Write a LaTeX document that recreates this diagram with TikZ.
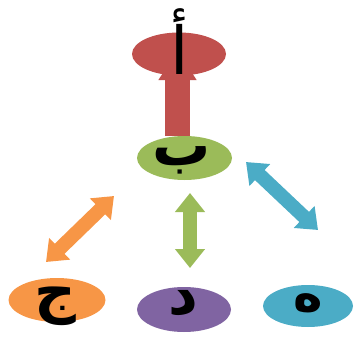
\documentclass[tikz,border=0pt]{standalone}
\usepackage{fontspec}
\newfontfamily\arabicfont[Script=Arabic]{DejaVu Sans}
\TeXXeTstate=1
\usetikzlibrary{shapes.geometric,arrows.meta}
\definecolor{cred}{HTML}{C0504D}
\definecolor{cgreen}{HTML}{9BBB59}
\definecolor{corange}{HTML}{F79646}
\definecolor{cpurple}{HTML}{8064A2}
\definecolor{cblue}{HTML}{4BACC6}
\begin{document}
\begin{tikzpicture}[x=1pt,y=-1pt,
  blob/.style={ellipse,draw=none,inner sep=0pt},
  lbl/.style={font=\arabicfont\bfseries\fontsize{58}{60}\selectfont,text=black,inner sep=0pt},
  dbl/.style={line width=14pt,{Triangle[width=29pt,length=19pt]}-{Triangle[width=29pt,length=19pt]}},
  single/.style={line width=25pt,-{Triangle[width=36pt,length=30pt]}}]
\useasboundingbox (0,0) rectangle (354,343);
% red up arrow (behind ellipse)
\coordinate (r0) at (177.5,136);
\coordinate (r1) at (177.5,50);
\draw[single,cred] (r0) -- (r1);
% ellipses
\node[blob,fill=cred,minimum width=94pt,minimum height=43pt] (a) at (179,54) {};
\node[blob,fill=cgreen,minimum width=95pt,minimum height=44pt] (b) at (184.5,158) {};
\node[blob,fill=corange,minimum width=97pt,minimum height=44pt] (c) at (57,300) {};
\node[blob,fill=cpurple,minimum width=94pt,minimum height=45pt] (d) at (184,309.5) {};
\node[blob,fill=cblue,minimum width=90pt,minimum height=42pt] (e) at (308,306) {};
% labels
\node[lbl,font=\arabicfont\fontsize{66}{70}\selectfont] (la) at (180,42) {\beginR أ\endR};
\node[lbl] (lb) at (182,160) {\beginR ب\endR};
\node[lbl] (lc) at (55,306) {\beginR ج\endR};
\node[lbl] (ld) at (183,303) {\beginR د\endR};
\node[lbl,font=\arabicfont\bfseries\fontsize{50}{52}\selectfont] (le) at (308,303) {\beginR ه\endR};
% double arrows
\coordinate (o1) at (114,196);
\coordinate (o2) at (46,262);
\draw[dbl,corange] (o1) -- (o2);
\coordinate (g1) at (190,193);
\coordinate (g2) at (190,268);
\draw[dbl,cgreen] (g1) -- (g2);
\coordinate (b1) at (246,162);
\coordinate (b2) at (318,230);
\draw[dbl,cblue] (b1) -- (b2);
\end{tikzpicture}
\end{document}
